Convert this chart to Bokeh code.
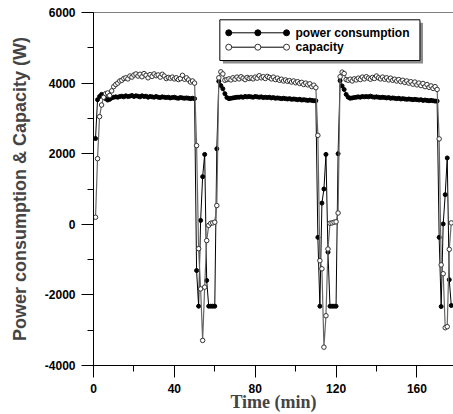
from bokeh.plotting import figure
from bokeh.models import Range1d, SingleIntervalTicker, Span, CustomJSTickFormatter
from bokeh.core.properties import value
from bokeh.embed import file_html
from bokeh.resources import INLINE

# ---------------- data ----------------
time_min = [
    1, 2, 3, 4, 5, 6, 7, 8, 9, 10, 11, 12, 13, 14, 15, 16, 17, 18, 19, 20,
    21, 22, 23, 24, 25, 26, 27, 28, 29, 30, 31, 32, 33, 34, 35, 36, 37, 38, 39, 40,
    41, 42, 43, 44, 45, 46, 47, 48, 49, 50, 51, 52, 53, 54, 55, 56, 57, 58, 59, 60,
    61, 62, 63, 64, 65, 66, 67, 68, 69, 70, 71, 72, 73, 74, 75, 76, 77, 78, 79, 80,
    81, 82, 83, 84, 85, 86, 87, 88, 89, 90, 91, 92, 93, 94, 95, 96, 97, 98, 99, 100,
    101, 102, 103, 104, 105, 106, 107, 108, 109, 110, 111, 112, 113, 114, 115, 116, 117, 118, 119, 120,
    121, 122, 123, 124, 125, 126, 127, 128, 129, 130, 131, 132, 133, 134, 135, 136, 137, 138, 139, 140,
    141, 142, 143, 144, 145, 146, 147, 148, 149, 150, 151, 152, 153, 154, 155, 156, 157, 158, 159, 160,
    161, 162, 163, 164, 165, 166, 167, 168, 169, 170, 171, 172, 173, 174, 175, 176, 177,
]

power_consumption = [
    2430, 3530, 3620, 3680, 3650, 3560, 3520, 3540, 3580, 3600,
    3610, 3600, 3620, 3630, 3610, 3640, 3620, 3630, 3650, 3620,
    3640, 3630, 3610, 3640, 3620, 3630, 3600, 3620, 3610, 3600,
    3620, 3600, 3590, 3610, 3600, 3590, 3600, 3580, 3590, 3600,
    3580, 3570, 3590, 3580, 3570, 3580, 3570, 3560, 3570, 3560,
    -1310, -2320, 110, 1350, 1980, -1590, -2320, -2320, -2320, -2320,
    2140, 4050, 3930, 3840, 3700, 3590, 3560, 3570, 3580, 3590,
    3600, 3600, 3610, 3600, 3620, 3610, 3620, 3610, 3600, 3620,
    3610, 3600, 3610, 3590, 3600, 3590, 3600, 3580, 3590, 3570,
    3580, 3570, 3560, 3570, 3560, 3550, 3560, 3540, 3550, 3540,
    3530, 3540, 3520, 3530, 3520, 3510, 3520, 3510, 3500, 3500,
    -370, -2320, 600, 1000, 1980, -790, -2320, -2320, -2320, -2320,
    2000, 4070, 3920, 3820, 3680, 3600, 3570, 3580, 3590, 3600,
    3610, 3600, 3620, 3610, 3620, 3610, 3630, 3610, 3600, 3610,
    3600, 3590, 3600, 3590, 3580, 3590, 3570, 3580, 3570, 3560,
    3570, 3550, 3560, 3550, 3540, 3550, 3540, 3530, 3540, 3530,
    3520, 3530, 3510, 3520, 3510, 3500, 3510, 3500, 3490, 3490,
    -370, -2330, 10, 840, 1880, -1570, -2300,
]

capacity = [
    200, 1860, 3050, 3380, 3600, 3700, 3720, 3650, 3780, 3900,
    3960, 4000, 4060, 4080, 4130, 4150, 4120, 4200, 4170, 4230,
    4260, 4200, 4250, 4180, 4270, 4220, 4150, 4240, 4190, 4260,
    4210, 4230, 4170, 4250, 4200, 4130, 4160, 4140, 4170, 4120,
    4150, 4100, 4130, 4220, 4110, 4150, 4090, 4030, 4060, 4000,
    2230, -690, -1830, -3290, -1780, -460, -30, 30, 40, 60,
    530, 4150, 4320, 4260, 4080, 4100, 4120, 4090, 4150, 4110,
    4170, 4120, 4180, 4140, 4100, 4160, 4130, 4150, 4120, 4170,
    4140, 4210, 4150, 4180, 4130, 4190, 4160, 4120, 4170, 4100,
    4140, 4080, 4110, 4060, 4090, 4050, 4070, 4030, 4060, 4010,
    4040, 3990, 4020, 3960, 4000, 3950, 3980, 3900, 3940, 3870,
    2520, -1030, -1260, -3480, -2590, -700, 30, 40, 60, 70,
    320, 4180, 4310, 4270, 4100, 4080, 4110, 4060, 4120, 4090,
    4140, 4100, 4170, 4120, 4180, 4140, 4110, 4160, 4130, 4200,
    4150, 4120, 4170, 4110, 4150, 4090, 4140, 4080, 4110, 4060,
    4100, 4040, 4080, 4020, 4060, 4000, 4040, 3970, 4030, 3950,
    4000, 3930, 3990, 3900, 3960, 3880, 3920, 3850, 3900, 3820,
    2420, -1150, -1400, -2930, -2900, -710, 40,
]

series_labels = ["power consumption", "capacity"]
x_label = "Time (min)"
y_label = "Power consumption & Capacity (W)"

# ---------------- figure ----------------
p = figure(
    width=453, height=414,
    output_backend="svg", toolbar_location=None,
    x_range=Range1d(0, 178.1), y_range=Range1d(-4000, 6000),
    min_border_left=93, min_border_right=0, min_border_top=12, min_border_bottom=49,
)
p.xgrid.visible = False
p.ygrid.visible = False
p.outline_line_color = None
p.background_fill_color = "white"
p.border_fill_color = "white"

p.xaxis.ticker = SingleIntervalTicker(interval=40, num_minor_ticks=2)
p.yaxis.ticker = SingleIntervalTicker(interval=2000, num_minor_ticks=2)
p.xaxis.formatter = CustomJSTickFormatter(code="return String(Math.round(tick));")
p.yaxis.formatter = CustomJSTickFormatter(code="return String(Math.round(tick));")

for ax in (p.xaxis[0], p.yaxis[0]):
    ax.axis_line_color = "black"
    ax.axis_line_width = 1
    ax.major_tick_line_color = "black"
    ax.minor_tick_line_color = "black"
    ax.major_tick_out = 12
    ax.major_tick_in = 0
    ax.minor_tick_out = 6
    ax.minor_tick_in = 0
    ax.major_label_standoff = 6
    ax.major_label_text_font = "Liberation Sans"
    ax.major_label_text_font_style = "bold"
    ax.major_label_text_font_size = "12px"
    ax.major_label_text_color = "black"

p.xaxis.axis_label = x_label
p.xaxis.axis_label_text_font = "Liberation Serif"
p.xaxis.axis_label_text_font_style = "bold"
p.xaxis.axis_label_text_font_size = "18px"
p.xaxis.axis_label_standoff = -4

p.yaxis.axis_label = y_label
p.yaxis.axis_label_text_font = "Liberation Sans"
p.yaxis.axis_label_text_font_style = "bold"
p.yaxis.axis_label_text_font_size = "18px"
p.yaxis.axis_label_standoff = 12

p.add_layout(Span(location=6000, dimension="width", line_color="black", line_width=1))

# series
p.line(time_min, power_consumption, line_color="black", line_width=1)
p.scatter(time_min, power_consumption, size=4, marker="circle",
          fill_color="black", line_color="black")
p.line(time_min, capacity, line_color="#666666", line_width=1.2)
p.scatter(time_min, capacity, size=4.5, marker="circle",
          fill_color="white", line_color="#333333", line_width=1)

# legend (drawn manually, data-space placement)
lg_left, lg_right, lg_top, lg_bottom = 62.5, 161.5, 5793, 4640
sh_dx, sh_dy = 1.5, 85
p.quad(left=[lg_left + sh_dx], right=[lg_right + sh_dx], top=[lg_top - sh_dy],
       bottom=[lg_bottom - sh_dy], fill_color="#8c8c8c", line_color=None)
p.quad(left=[lg_left], right=[lg_right], top=[lg_top], bottom=[lg_bottom],
       fill_color="white", line_color="black", line_width=1)
sample_x = [66.9, 81.3, 95.5]
row_y = [5425, 5017]
p.line(sample_x, [row_y[0]] * 3, line_color="black", line_width=1)
p.scatter(sample_x, [row_y[0]] * 3, size=6, fill_color="black", line_color="black")
p.line(sample_x, [row_y[1]] * 3, line_color="black", line_width=1)
p.scatter(sample_x, [row_y[1]] * 3, size=6, fill_color="white", line_color="#333333")
p.text(x=[99.95, 99.95], y=row_y, text=series_labels,
       text_font=value("Liberation Sans"), text_font_style="bold",
       text_font_size="12px", text_baseline="middle", text_color="black")

open("out.html", "w").write(file_html(p, INLINE))
